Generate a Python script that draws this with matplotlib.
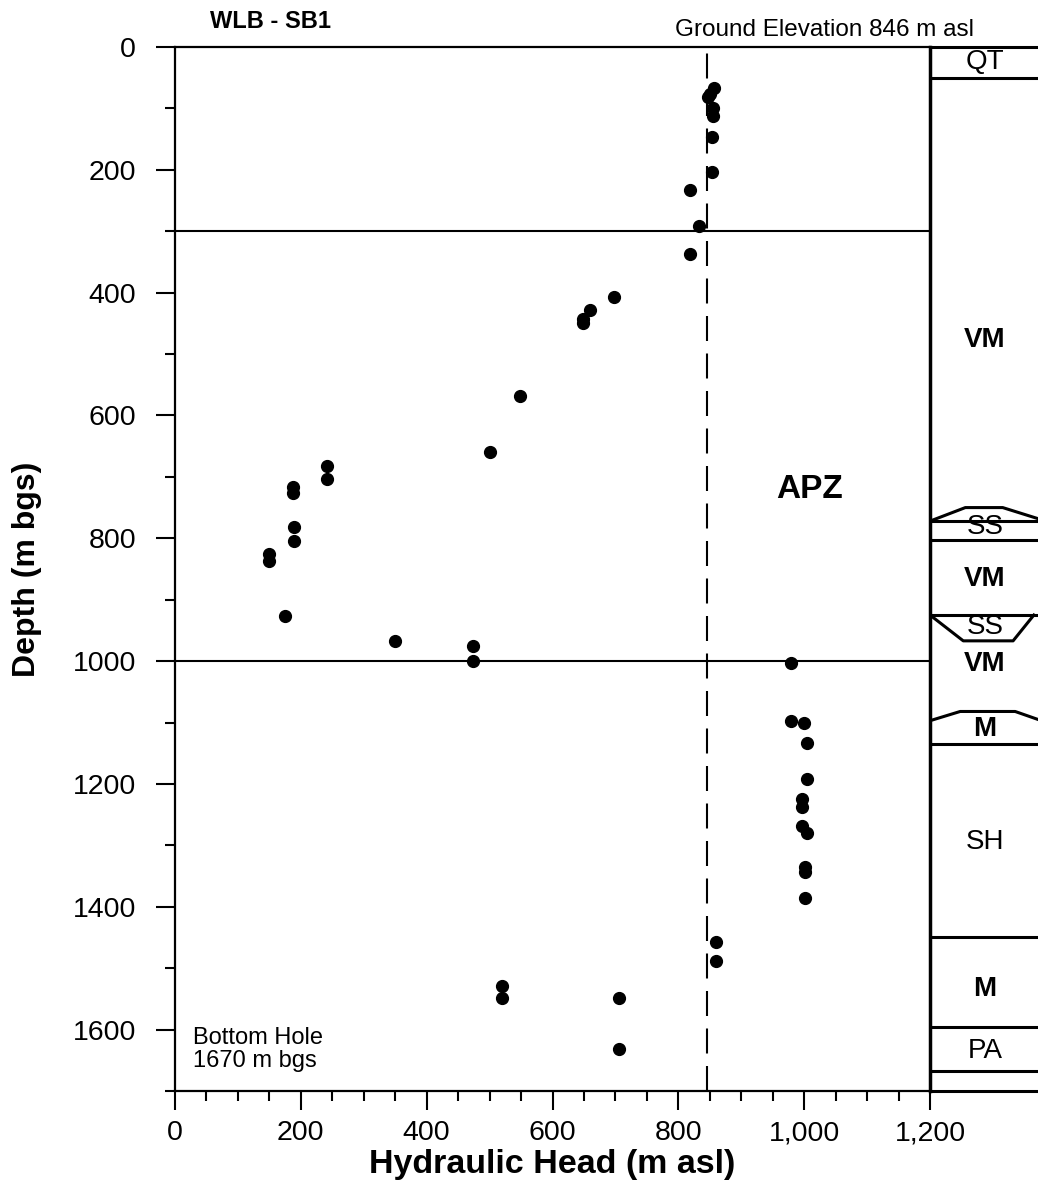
import matplotlib
matplotlib.use("Agg")
import matplotlib.pyplot as plt
from matplotlib.ticker import MultipleLocator, FuncFormatter

plt.rcParams['font.family'] = ['Liberation Sans', 'DejaVu Sans']

# hydraulic head (m asl) vs depth (m bgs)
head = [857, 850, 847, 855, 855, 853, 854, 818, 832, 818,
        698, 659, 648, 648, 549, 500,
        242, 242, 188, 188, 189, 189, 150, 150, 175,
        349, 474, 474,
        979, 979, 999, 1005, 1005, 997, 997, 996, 1005, 1002, 1002, 1002,
        860, 860, 520, 520, 705, 705]
depth = [67, 77, 82, 100, 113, 146, 204, 233, 291, 337,
         407, 428, 443, 450, 568, 659,
         682, 704, 716, 727, 781, 805, 826, 837, 927,
         968, 975, 1000,
         1003, 1098, 1100, 1133, 1192, 1225, 1238, 1268, 1280, 1336, 1343, 1385,
         1457, 1488, 1529, 1549, 1549, 1632]

ground_elev = 846
apz_limits = [300, 1000]

# stratigraphic column
layer_bounds = [50, 772, 802, 925, 1135, 1450, 1595, 1668]
layer_names = ['QT', 'VM', 'SS', 'VM', 'SS', 'VM', 'M', 'SH', 'M', 'PA']
layer_label_depth = [25, 477, 782, 867, 945, 1005, 1111, 1295, 1534, 1635]
layer_bold = [False, True, False, True, False, True, True, False, True, False]
ss1_x = [0, 0.17, 0.35, 0.52]
ss1_d = [772, 750, 750, 768]
ss2_x = [0, 0.16, 0.40, 0.50]
ss2_d = [925, 967, 967, 925]
m_x = [0, 0.145, 0.41, 0.52]
m_d = [1097, 1082, 1082, 1095]

fig = plt.figure(figsize=(10.38, 11.89), dpi=100)
ax = fig.add_axes([0.1686, 0.0824, 0.7274, 0.8781])

ax.plot(head, depth, 'o', color='black', ms=8.5, zorder=5)
ax.axvline(ground_elev, color='black', lw=1.5, dashes=(12, 6))
for d in apz_limits:
    ax.axhline(d, color='black', lw=1.5)

ax.set_xlim(0, 1200)
ax.set_ylim(1700, 0)
ax.xaxis.set_major_locator(MultipleLocator(200))
ax.xaxis.set_minor_locator(MultipleLocator(50))
ax.yaxis.set_major_locator(MultipleLocator(200))
ax.yaxis.set_minor_locator(MultipleLocator(100))
ax.xaxis.set_major_formatter(FuncFormatter(lambda v, p: f"{v:,.0f}"))
ax.tick_params(which='major', length=14, width=1.5, labelsize=20.5)
ax.tick_params(which='minor', length=7, width=1.5)
ax.tick_params(axis='y', which='major', pad=14)
ax.tick_params(axis='x', which='major', pad=7)
for s in ['left', 'bottom', 'top']:
    ax.spines[s].set_linewidth(1.6)
ax.spines['right'].set_linewidth(2.5)

ax.set_xlabel('Hydraulic Head (m asl)', fontsize=24.5, fontweight='bold', labelpad=2)
ax.set_ylabel('Depth (m bgs)', fontsize=23, fontweight='bold', labelpad=22)

ax.text(1008, 721, 'APZ', fontsize=24, fontweight='bold', ha='center', va='center')
ax.text(28, 1632, 'Bottom Hole\n1670 m bgs', fontsize=17, ha='left', va='center',
        linespacing=1.05)

fig.text(210 / 1038, 1 - 22 / 1189, 'WLB - SB1', fontsize=17, fontweight='bold',
         ha='left', va='center')
fig.text(675 / 1038, 1 - 30 / 1189, 'Ground Elevation 846 m asl', fontsize=17.5,
         ha='left', va='center')

# column to the right
col = fig.add_axes([0.896, 0.0824, 0.2, 0.8781])
col.set_xlim(0, 1)
col.set_ylim(1700, 0)
col.axis('off')
col.hlines([0, 1700], 0, 1, color='black', lw=2.2, clip_on=False)
col.hlines(layer_bounds, 0, 1, color='black', lw=2.2)
col.plot(ss1_x, ss1_d, color='black', lw=2.2)
col.plot(ss2_x, ss2_d, color='black', lw=2.2)
col.plot(m_x, m_d, color='black', lw=2.2)
for name, d, b in zip(layer_names, layer_label_depth, layer_bold):
    col.text(0.265, d, name, fontsize=20, ha='center', va='center',
             fontweight='bold' if b else 'normal')

fig.savefig('out.png', dpi=100)
